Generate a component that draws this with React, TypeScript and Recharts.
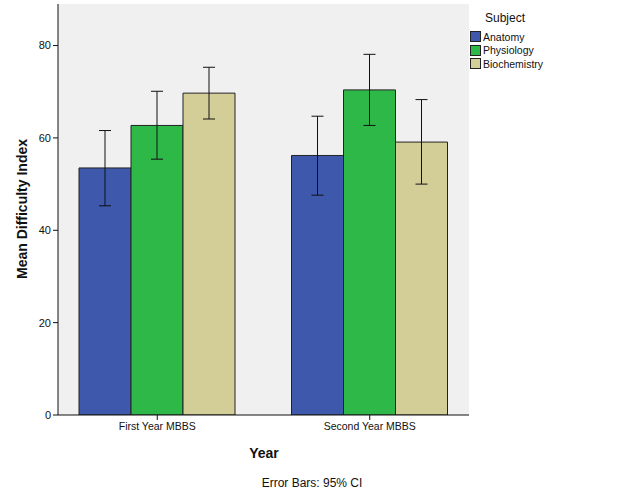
import {
  BarChart,
  Bar,
  XAxis,
  YAxis,
  CartesianGrid,
  ErrorBar,
  Label,
} from 'recharts'

const categories = ['First Year MBBS', 'Second Year MBBS']

const anatomyMean = [53.5, 56.2]
const anatomyLow = [45.3, 47.6]
const anatomyHigh = [61.6, 64.7]

const physiologyMean = [62.7, 70.4]
const physiologyLow = [55.4, 62.7]
const physiologyHigh = [70.1, 78.1]

const biochemMean = [69.7, 59.1]
const biochemLow = [64.1, 50.0]
const biochemHigh = [75.3, 68.3]

const yTicks = [0, 20, 40, 60, 80]

const subjects = [
  { key: 'anatomy', name: 'Anatomy', color: '#3e58ab' },
  { key: 'physiology', name: 'Physiology', color: '#2eb848' },
  { key: 'biochem', name: 'Biochemistry', color: '#d3ce97' },
]

const data = categories.map((year, i) => ({
  year,
  anatomy: anatomyMean[i],
  anatomyErr: [anatomyMean[i] - anatomyLow[i], anatomyHigh[i] - anatomyMean[i]],
  physiology: physiologyMean[i],
  physiologyErr: [physiologyMean[i] - physiologyLow[i], physiologyHigh[i] - physiologyMean[i]],
  biochem: biochemMean[i],
  biochemErr: [biochemMean[i] - biochemLow[i], biochemHigh[i] - biochemMean[i]],
}))

const FONT = '"Liberation Sans", Arial, sans-serif'

// legend sits outside the chart so it doesn't eat into the plot area
function SubjectLegend() {
  return (
    <div style={{ position: 'absolute', left: 470, top: 11, fontFamily: FONT, color: '#111' }}>
      <div style={{ fontSize: 12, marginLeft: 15, marginBottom: 5, lineHeight: '14px' }}>Subject</div>
      {subjects.map((s) => (
        <div key={s.key} style={{ display: 'flex', alignItems: 'center', height: 13.5, fontSize: 10.5 }}>
          <span
            style={{
              display: 'inline-block',
              width: 11,
              height: 11,
              background: s.color,
              border: '1px solid #222',
              boxSizing: 'border-box',
              marginRight: 2,
            }}
          />
          {s.name}
        </div>
      ))}
    </div>
  )
}

export default function App() {
  return (
    <div style={{ position: 'absolute', left: 0, top: 0, width: 626, height: 501, background: '#fff' }}>
      <BarChart
        width={626}
        height={501}
        data={data}
        margin={{ top: 4, right: 157, left: 18, bottom: 56 }}
        barCategoryGap={28}
        barGap={0}
      >
        <CartesianGrid fill="#f0f0f0" horizontal={false} vertical={false} />
        <XAxis
          dataKey="year"
          padding={{ left: -7, right: -7 }}
          height={30}
          tickSize={5}
          tickMargin={3}
          stroke="#111"
          tick={{ fontSize: 10.5, fill: '#111', fontFamily: FONT }}
        >
          <Label
            content={() => (
              <g fontFamily={FONT} fill="#111">
                <text x={264} y={458} textAnchor="middle" fontSize={14} fontWeight="bold">
                  Year
                </text>
                <text x={312} y={487} textAnchor="middle" fontSize={12}>
                  Error Bars: 95% CI
                </text>
              </g>
            )}
          />
        </XAxis>
        <XAxis xAxisId="top" orientation="top" height={0} tick={false} tickLine={false} stroke="#666" strokeWidth={1.5} />
        <YAxis
          domain={[0, 89]}
          ticks={yTicks}
          width={40}
          tickSize={5}
          tickMargin={2}
          stroke="#111"
          allowDataOverflow
          tick={{ fontSize: 11, fill: '#111', fontFamily: FONT }}
        >
          <Label
            content={() => (
              <text
                x={27}
                y={209}
                transform="rotate(-90 27 209)"
                textAnchor="middle"
                fontFamily={FONT}
                fontSize={14}
                fontWeight="bold"
                fill="#111"
              >
                Mean Difficulty Index
              </text>
            )}
          />
        </YAxis>
        <YAxis yAxisId="right" orientation="right" width={0} tick={false} tickLine={false} stroke="#666" strokeWidth={1.5} />
        {subjects.map((s) => (
          <Bar
            key={s.key}
            dataKey={s.key}
            name={s.name}
            fill={s.color}
            stroke="#222"
            strokeWidth={1}
            isAnimationActive={false}
          >
            <ErrorBar dataKey={`${s.key}Err`} width={6} stroke="#111" strokeWidth={1} direction="y" />
          </Bar>
        ))}
      </BarChart>
      <SubjectLegend />
    </div>
  )
}
